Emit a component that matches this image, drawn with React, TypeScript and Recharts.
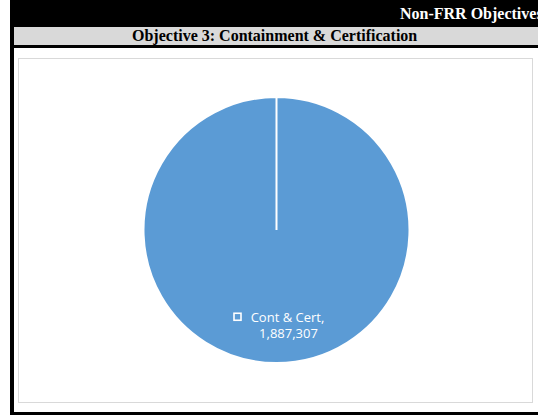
import { PieChart, Pie, Cell } from "recharts";

const categories = ["Cont & Cert"];
const values = [1887307];
const colors = ["#5B9BD5"];

const data = categories.map((name, i) => ({ name, value: values[i] }));

const RADIAN = Math.PI / 180;

function renderLabel(props: any) {
  const { cx, cy, midAngle, outerRadius, name, value } = props;
  const r = outerRadius * 0.72;
  const x = cx + r * Math.cos(-midAngle * RADIAN);
  const y = cy + r * Math.sin(-midAngle * RADIAN);
  const tx = x + 11;
  return (
    <g>
      <rect x={x - 42.5} y={y - 12.5} width={7} height={7} fill="none" stroke="#fff" strokeWidth={1.6} />
      <text
        x={tx}
        y={y - 4}
        fill="#fff"
        textAnchor="middle"
        fontFamily="'Open Sans', 'Noto Sans', sans-serif"
        fontSize={13}
      >
        {name},
      </text>
      <text
        x={tx + 1}
        y={y + 12}
        fill="#fff"
        textAnchor="middle"
        fontFamily="'Open Sans', 'Noto Sans', sans-serif"
        fontSize={13}
      >
        {value.toLocaleString("en-US")}
      </text>
    </g>
  );
}

export default function App() {
  return (
    <div style={{ position: "absolute", left: 0, top: 0, width: 538, height: 415, overflow: "hidden", background: "#fff" }}>
      {/* black frame */}
      <div style={{ position: "absolute", left: 10, top: 0, width: 528, height: 415, background: "#000" }} />
      {/* top title */}
      <div
        style={{
          position: "absolute",
          left: 400,
          top: 5.5,
          whiteSpace: "nowrap",
          color: "#fff",
          fontFamily: "'Liberation Serif', serif",
          fontWeight: "bold",
          fontSize: 16,
          lineHeight: "16px",
        }}
      >
        Non-FRR Objectives
      </div>
      {/* gray band */}
      <div
        style={{
          position: "absolute",
          left: 14,
          top: 27,
          width: 524,
          height: 18,
          background: "#d9d9d9",
        }}
      />
      <div
        style={{
          position: "absolute",
          left: 132,
          top: 27.5,
          whiteSpace: "nowrap",
          fontFamily: "'Liberation Serif', serif",
          fontWeight: "bold",
          fontSize: 16,
          lineHeight: "16px",
          color: "#000",
        }}
      >
        Objective 3: Containment &amp; Certification
      </div>
      {/* white body */}
      <div style={{ position: "absolute", left: 14, top: 48, width: 524, height: 364, background: "#fff" }} />
      {/* chart box */}
      <div
        style={{
          position: "absolute",
          left: 18,
          top: 58,
          width: 513,
          height: 343,
          border: "1px solid #d9d9d9",
          background: "#fff",
        }}
      >
        <PieChart width={513} height={343} margin={{ top: 0, right: 0, bottom: 0, left: 0 }}>
          <Pie
            data={data}
            dataKey="value"
            nameKey="name"
            cx={257.5}
            cy={171}
            outerRadius={133}
            startAngle={90}
            endAngle={-270}
            stroke="#fff"
            strokeWidth={2}
            label={renderLabel}
            labelLine={false}
            isAnimationActive={false}
          >
            {data.map((_, i) => (
              <Cell key={i} fill={colors[i]} />
            ))}
          </Pie>
        </PieChart>
      </div>
    </div>
  );
}
